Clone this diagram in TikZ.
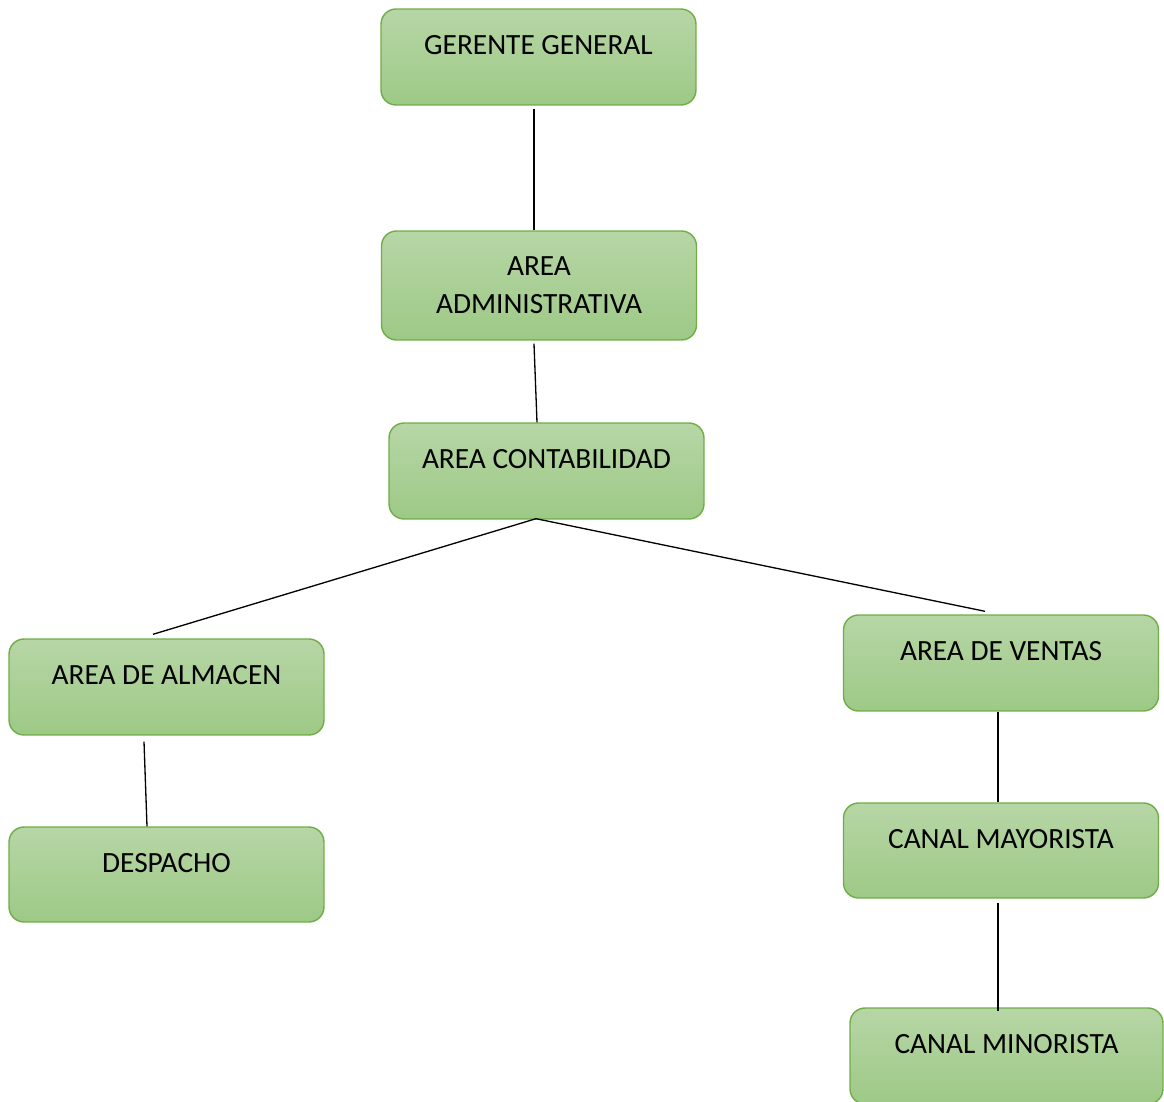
\documentclass[tikz,border=0pt]{standalone}
\usepackage{fontspec}
\setmainfont{Carlito}
\usepackage{tikz}
\usetikzlibrary{calc,positioning}
\usepackage{xcolor}

\definecolor{boxtop}{RGB}{183,214,166}
\definecolor{boxbottom}{RGB}{157,201,134}
\definecolor{boxline}{RGB}{112,173,71}

\tikzset{
  area/.style={draw=boxline, line width=0.8pt, rounded corners=0.3cm,
    top color=boxtop, bottom color=boxbottom,
    minimum width=6.3cm, minimum height=1.92cm, inner sep=0pt,
    font=\fontsize{16.7}{21.6}\selectfont,
    text height=10pt, text depth=12.3pt},
  areatwo/.style={area, text height=, text depth=, align=center},
  link/.style={draw=black, line width=0.75pt}
}

\begin{document}
\begin{tikzpicture}[x=0.02cm, y=-0.02cm]
    \useasboundingbox (0,0) rectangle (1164,1102);

    % the boxes
    \node[area] (gerente) at (538.5,57) {GERENTE GENERAL};
    \node[areatwo, minimum height=2.18cm] (admin) at (539,285.5) {AREA\\ADMINISTRATIVA};
    \node[area] (conta) at (546.5,471) {AREA CONTABILIDAD};
    \node[area] (almacen) at (166.5,687) {AREA DE ALMACEN};
    \node[area, minimum height=1.9cm] (despacho) at (166.5,874.5) {DESPACHO};
    \node[area] (ventas) at (1001,663) {AREA DE VENTAS};
    \node[area, minimum height=1.9cm] (mayor) at (1001,850.5) {CANAL MAYORISTA};
    \node[area, minimum width=6.26cm] (minor) at (1006.5,1056) {CANAL MINORISTA};

    % the links
    \draw[link] ($(gerente.south)+(-4.5,3)$) -- ($(admin.north)+(-5,0)$);
    \draw[link] ($(admin.south)+(-5,3)$) -- ($(conta.north)+(-9.5,0)$);
    \coordinate (split) at ($(conta.south)+(-10.5,-1)$);
    \draw[link] (split) -- ($(almacen.north)+(-13.5,-4)$);
    \draw[link] (split) -- ($(ventas.north)+(-16,-3)$);
    \draw[link] ($(almacen.south)+(-22.5,6)$) -- ($(despacho.north)+(-19.5,0)$);
    \draw[link] ($(ventas.south)+(-3,0)$) -- ($(mayor.north)+(-3,0)$);
    \draw[link] ($(mayor.south)+(-3,4)$) -- ($(minor.north)+(-8.5,4)$);
\end{tikzpicture}
\end{document}
